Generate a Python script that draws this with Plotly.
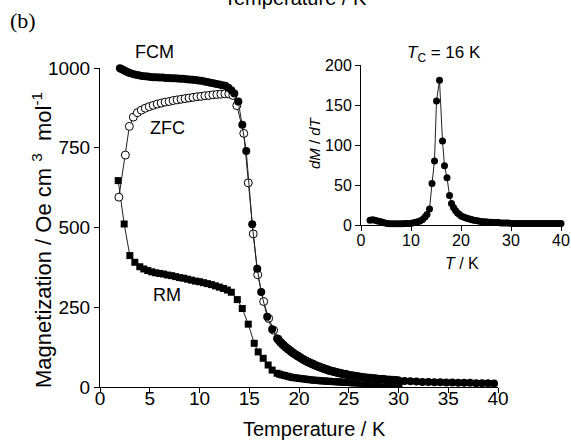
import plotly.graph_objects as go

# ---------------- data ----------------
fcm_T = [1.8, 2.0, 2.2, 2.4, 2.6, 2.8, 3.0, 3.3, 3.6, 3.9, 4.2, 4.5, 4.8, 5.1, 5.4, 5.7,
         6.0, 6.3, 6.6, 6.9, 7.2, 7.5, 7.8, 8.1, 8.4, 8.7, 9.0, 9.3, 9.6, 9.9, 10.2, 10.5,
         10.8, 11.1, 11.4, 11.7, 12.0, 12.3, 12.6, 12.9, 13.2, 13.5, 13.9, 14.3, 14.7, 15.3,
         15.8, 16.2, 16.8, 17.3, 17.8, 18.0, 18.25, 18.5, 18.75, 19.0, 19.25, 19.5, 19.75,
         20.0, 20.25, 20.5, 20.75, 21.0, 21.25, 21.5, 21.75, 22.0, 22.25, 22.5, 22.75, 23.0,
         23.25, 23.5, 23.75, 24.0, 24.25, 24.5, 24.75, 25.0, 25.25, 25.5, 25.75, 26.0, 26.25,
         26.5, 26.75, 27.0, 27.25, 27.5, 27.75, 28.0, 28.25, 28.5, 28.75, 29.0, 29.25, 29.5,
         29.75, 30.0, 30.6, 31.2, 31.8, 32.4, 33.0, 33.6, 34.2, 34.8, 35.4, 36.0, 36.6,
         37.2, 37.8, 38.4, 39.0, 39.6]
fcm_M = [1002, 999, 996, 993, 990, 987, 984, 981, 979, 977, 975, 974, 973, 972, 971, 971,
         970, 970, 969, 969, 968, 968, 967, 966, 966, 965, 964, 963, 962, 961, 960, 958,
         956, 954, 952, 950, 948, 946, 944, 938, 930, 920, 895, 822, 740, 510,
         371, 298, 220, 181, 152, 145, 137, 129, 122, 116, 110, 104, 99,
         94, 89, 85, 80, 76, 73, 69, 66, 63, 60, 57, 55, 52,
         50, 48, 46, 44, 42, 40, 39, 37, 36, 35, 33, 32, 31,
         30, 29, 28, 27, 27, 26, 25, 24, 24, 23, 22, 22, 21,
         21, 20, 19, 18, 17, 16, 16, 15, 15, 14, 14, 13, 13,
         13, 12, 12, 12, 11]

zfc_T = [1.9, 2.55, 2.95, 3.35, 3.75, 4.15, 4.55, 4.95, 5.35, 5.75, 6.15, 6.55, 6.95, 7.35,
         7.75, 8.15, 8.55, 8.95, 9.35, 9.75, 10.15, 10.55, 10.95, 11.35, 11.75, 12.15, 12.55,
         12.95, 13.35, 13.75, 14.45, 14.9, 15.4, 15.85, 16.45, 16.95, 17.45, 17.9, 18.15, 18.4,
         18.65, 18.9, 19.15, 19.4, 19.65, 19.9, 20.15, 20.4, 20.65, 20.9, 21.15, 21.4, 21.65,
         21.9, 22.15, 22.4, 22.65, 22.9, 23.15, 23.4, 23.65, 23.9, 24.15, 24.4, 24.65, 24.9,
         25.15, 25.4, 25.65, 25.9, 26.15, 26.4, 26.65, 26.9, 27.15, 27.4, 27.65, 27.9, 28.15,
         28.4, 28.65, 28.9, 29.15, 29.4, 29.65, 29.9]
zfc_M = [595, 727, 817, 846, 860, 868, 874, 879, 883, 887, 890, 893, 895, 898,
         900, 902, 904, 906, 908, 910, 911, 913, 914, 916, 917, 918, 919,
         919, 914, 882, 795, 640, 480, 352, 268, 215, 178, 150, 140, 132,
         125, 119, 113, 107, 102, 97, 92, 87, 83, 79, 75, 72, 68,
         65, 62, 59, 56, 54, 51, 49, 47, 45, 43, 41, 40, 38,
         36, 35, 34, 33, 31, 30, 29, 28, 28, 27, 26, 25, 24,
         24, 23, 22, 22, 21, 21, 20]

rm_T = [1.83, 2.43, 3.0, 3.5, 4.0, 4.4, 4.8, 5.2, 5.6, 6.0, 6.4, 6.8, 7.2, 7.6, 8.0, 8.4,
        8.8, 9.2, 9.6, 10.0, 10.4, 10.8, 11.2, 11.6, 12.0, 12.4, 12.8, 13.2, 13.8, 14.3,
        14.9, 15.5, 15.9, 16.4, 16.9, 17.3, 17.8, 18.05, 18.3, 18.55, 18.8, 19.05, 19.3,
        19.55, 19.8, 20.05, 20.3, 20.55, 20.8, 21.05, 21.3, 21.55, 21.8, 22.05, 22.3, 22.55,
        22.8, 23.05, 23.3, 23.55, 23.8, 24.05, 24.3, 24.55, 24.8, 25.05, 25.3, 25.55, 25.8,
        26.05, 26.3, 26.55, 26.8, 27.05, 27.3, 27.55, 27.8, 28.05, 28.3, 28.55, 28.8, 29.05,
        29.3, 29.55, 29.8, 30.05]
rm_M = [647, 511, 412, 391, 377, 370, 365, 361, 358, 356, 354, 351, 349, 346, 343, 341,
        338, 335, 332, 330, 327, 324, 321, 317, 313, 309, 304, 297, 274, 246,
        197, 137, 110, 90, 69, 53, 43, 40, 38, 36, 34, 32, 30,
        29, 28, 27, 26, 25, 24, 23, 22, 21, 21, 20, 19, 19,
        18, 18, 17, 17, 16, 16, 15, 15, 14, 14, 13, 13, 13,
        12, 12, 12, 11, 11, 11, 10, 10, 10, 10, 9, 9, 9,
        9, 8, 8, 8]

dmdt_T = [1.8, 2.3, 2.8, 3.3, 3.8, 4.3, 4.8, 5.3, 5.8, 6.3, 6.8, 7.3, 7.8, 8.3, 8.8, 9.3,
          9.8, 10.3, 10.8, 11.3, 11.8, 12.3, 12.8, 13.2, 13.7, 14.2, 14.7, 15.1, 15.7, 16.3,
          16.7, 17.2, 17.7, 18.1, 18.5, 18.9, 19.3, 19.7, 20.1, 20.5, 20.9, 21.3, 21.7, 22.1,
          22.5, 23.0, 23.5, 24.0, 24.5, 25.0, 25.5, 26.0, 26.5, 27.0, 27.5, 28.0, 28.5, 29.0,
          29.5, 30.0, 30.5, 31.0, 31.5, 32.0, 32.5, 33.0, 33.5, 34.0, 34.5, 35.0, 35.5, 36.0,
          36.5, 37.0, 37.5, 38.0, 38.5, 39.0, 39.5, 40.0]
dmdt_V = [6, 6.5, 6, 5, 4.5, 3.5, 2.5, 2, 1.5, 1.5, 1.5, 1.5, 1.5, 1.5, 2, 2,
          2, 2.5, 3, 4, 5, 7, 10, 13, 20, 52, 80, 155, 181, 105,
          74, 59, 37, 27, 22, 18, 15, 13, 11, 10, 9, 8, 7.5, 7,
          6, 5.5, 5, 4.5, 4, 4, 3.5, 3.5, 3, 3, 3, 2.5, 2.5, 2.5,
          2.5, 2, 2, 2, 2, 2, 2, 2, 2, 2, 2, 2, 2, 2,
          2, 2, 2, 2, 2, 2, 2, 2]

main_xticks = [0, 5, 10, 15, 20, 25, 30, 35, 40]
main_yticks = [0, 250, 500, 750, 1000]
inset_xticks = [0, 10, 20, 30, 40]
inset_yticks = [0, 50, 100, 150, 200]

# ---------------- figure ----------------
W, H = 571, 441
FONT = "Arial, 'Liberation Sans', sans-serif"
LINE = dict(color="#222222", width=1)

fig = go.Figure()
fig.add_trace(go.Scatter(x=rm_T, y=rm_M, mode="lines+markers", line=LINE,
                         marker=dict(symbol="square", size=7, color="black"),
                         cliponaxis=False, showlegend=False))
fig.add_trace(go.Scatter(x=zfc_T, y=zfc_M, mode="lines+markers", line=LINE,
                         marker=dict(symbol="circle", size=8, color="white",
                                     line=dict(color="black", width=1)),
                         cliponaxis=False, showlegend=False))
fig.add_trace(go.Scatter(x=fcm_T, y=fcm_M, mode="lines+markers", line=LINE,
                         marker=dict(symbol="circle", size=8, color="black"),
                         cliponaxis=False, showlegend=False))
fig.add_trace(go.Scatter(x=dmdt_T, y=dmdt_V, mode="lines+markers", line=LINE,
                         marker=dict(symbol="circle", size=7, color="black"),
                         cliponaxis=False, showlegend=False, xaxis="x2", yaxis="y2"))

def px(x):
    return x / W

def py(y):
    return 1 - y / H

axis_common = dict(showline=True, linecolor="black", linewidth=1, ticks="outside",
                   ticklen=5, tickwidth=1, tickcolor="black", showgrid=False,
                   zeroline=False, mirror=False, automargin=False)

fig.update_layout(
    width=W, height=H, margin=dict(l=0, r=0, t=0, b=0, autoexpand=False),
    paper_bgcolor="white", plot_bgcolor="rgba(0,0,0,0)",
    font=dict(family=FONT, color="black"),
    xaxis=dict(domain=[px(100), px(498)], range=[0, 40], tickvals=main_xticks,
               tickfont=dict(size=19), anchor="y", ticklabelstandoff=-11, **axis_common),
    yaxis=dict(domain=[py(387), py(68)], range=[0, 1000], tickvals=main_yticks,
               tickfont=dict(size=19), anchor="x", **axis_common),
    xaxis2=dict(domain=[px(361), px(561)], range=[0, 40], tickvals=inset_xticks,
                tickfont=dict(size=16), anchor="y2", ticklabelstandoff=-4, **axis_common),
    yaxis2=dict(domain=[py(225), py(65)], range=[0, 200], tickvals=inset_yticks,
                tickfont=dict(size=16), anchor="x2", **axis_common),
)

ann = [
    dict(text="Temperature / K", x=px(314), y=py(429), font=dict(size=20)),
    dict(text="Magnetization / Oe cm <sup>3</sup>  mol<sup>-1</sup>", x=px(42), y=py(240),
         textangle=-90, font=dict(size=22)),
    dict(text="FCM", x=px(154), y=py(52), font=dict(size=18)),
    dict(text="ZFC", x=px(167), y=py(128), font=dict(size=18)),
    dict(text="RM", x=px(167), y=py(295), font=dict(size=18)),
    dict(text="(b)", x=px(23), y=py(20), font=dict(size=22, family="'Liberation Serif', 'Times New Roman', serif")),
    dict(text="<i>T</i><sub>C</sub> = 16 K", x=px(444), y=py(54), font=dict(size=17)),
    dict(text="<i>dM</i> / <i>dT</i>", x=px(314), y=py(143), textangle=-90, font=dict(size=15)),
    dict(text="<i>T</i> / K", x=px(462), y=py(263), font=dict(size=16)),
    dict(text="Temperature / K", x=px(295), y=py(-2), font=dict(size=20)),
]
for a in ann:
    a.setdefault("xref", "paper")
    a.setdefault("yref", "paper")
    a.setdefault("showarrow", False)
    a.setdefault("xanchor", "center")
    a.setdefault("yanchor", "middle")
    fig.add_annotation(**a)

fig.write_html("out.html", config={"displayModeBar": False},
               post_script="document.body.style.margin='0';document.body.style.overflow='hidden';")
